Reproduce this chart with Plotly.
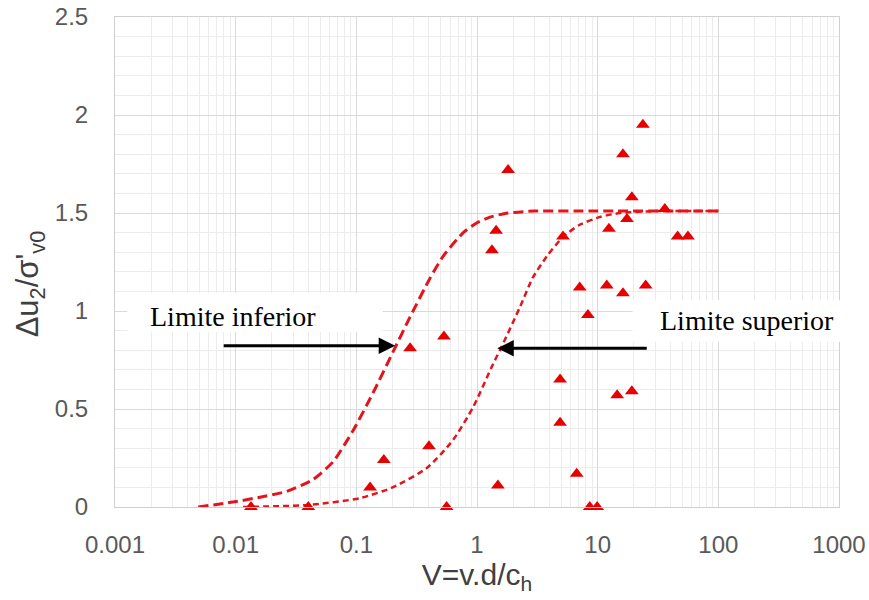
import plotly.graph_objects as go

# Measured points
V_data = [23.7, 16.2, 1.81, 19.2, 36, 17.5, 12.4, 1.44, 1.33, 5.16, 46, 56,
          7.1, 11.9, 16.2, 25, 8.3, 4.88, 14.5, 19.2, 4.88, 6.7, 1.49, 8.6, 9.9,
          0.279, 0.532, 0.40, 0.169, 0.130, 0.0134, 0.040, 0.56]
U_data = [1.95, 1.80, 1.72, 1.58, 1.52, 1.47, 1.42, 1.41, 1.31, 1.38, 1.38, 1.38,
          1.12, 1.13, 1.09, 1.13, 0.98, 0.65, 0.57, 0.59, 0.43, 0.17, 0.11, 0, 0,
          0.81, 0.87, 0.31, 0.24, 0.10, 0, 0, 0]

# Limite inferior curve
lower_V = [0.0049, 0.0095, 0.0159, 0.0266, 0.0437, 0.064, 0.094, 0.137, 0.201, 0.279,
           0.41, 0.525, 0.77, 1.0, 1.3, 1.8, 3, 10, 100]
lower_U = [0.0, 0.025, 0.05, 0.08, 0.14, 0.23, 0.39, 0.58, 0.79, 0.97,
           1.17, 1.28, 1.40, 1.45, 1.48, 1.50, 1.51, 1.51, 1.51]

# Limite superior curve
upper_V = [0.0115, 0.040, 0.107, 0.20, 0.386, 0.63, 0.93, 1.36, 1.55, 2.27, 2.9,
           3.8, 5.2, 7.1, 10.5, 15.3, 30, 100]
upper_U = [0.0, 0.01, 0.045, 0.10, 0.20, 0.34, 0.51, 0.73, 0.80, 1.02, 1.17,
           1.28, 1.38, 1.44, 1.48, 1.50, 1.51, 1.51]

x_tickvals = [0.001, 0.01, 0.1, 1, 10, 100, 1000]
x_ticktext = ["0.001", "0.01", "0.1", "1", "10", "100", "1000"]
y_tickvals = [0, 0.5, 1, 1.5, 2, 2.5]
y_ticktext = ["0", "0.5", "1", "1.5", "2", "2.5"]

RED = "#e3141c"
SANS = "Liberation Sans, Arial, sans-serif"
SERIF = "Liberation Serif, Times New Roman, serif"

fig = go.Figure()
fig.add_trace(go.Scatter(x=lower_V, y=lower_U, mode="lines",
                         line=dict(color=RED, width=3, dash="10px,5px", shape="spline", smoothing=0.6),
                         hoverinfo="skip", showlegend=False))
fig.add_trace(go.Scatter(x=upper_V, y=upper_U, mode="lines",
                         line=dict(color=RED, width=2.5, dash="6px,4px", shape="spline", smoothing=0.6),
                         hoverinfo="skip", showlegend=False))
fig.add_trace(go.Scatter(x=V_data, y=U_data, mode="markers", cliponaxis=False,
                         marker=dict(symbol="triangle-up", size=12, color="#e60000"),
                         showlegend=False))

# white text boxes (cover the grid; they do not overlap any data mark)
fig.add_shape(type="rect", xref="paper", yref="paper", x0=0.017, x1=0.370, y0=0.357, y1=0.437,
              fillcolor="white", line_width=0, layer="above")
fig.add_shape(type="rect", xref="paper", yref="paper", x0=0.715, x1=1.002, y0=0.337, y1=0.422,
              fillcolor="white", line_width=0, layer="above")

fig.add_annotation(xref="paper", yref="paper", x=0.163, y=0.388, xanchor="center", yanchor="middle",
                   text="Limite inferior", showarrow=False,
                   font=dict(family=SERIF, size=28, color="black"))
fig.add_annotation(xref="paper", yref="paper", x=0.873, y=0.380, xanchor="center", yanchor="middle",
                   text="Limite superior", showarrow=False,
                   font=dict(family=SERIF, size=28, color="black"))

fig.add_annotation(xref="paper", yref="paper", x=0.387, y=0.329, ax=-173, ay=0, text="",
                   showarrow=True, arrowhead=2, arrowsize=1.1, arrowwidth=3, arrowcolor="black")
fig.add_annotation(xref="paper", yref="paper", x=0.528, y=0.324, ax=151, ay=0, text="",
                   showarrow=True, arrowhead=2, arrowsize=1.1, arrowwidth=3, arrowcolor="black")

# y-axis title (placed slightly below the plot centre, as in the reference)
fig.add_annotation(xref="paper", yref="paper", x=-0.117, y=0.455, xanchor="center", yanchor="middle",
                   text="Δu<sub>2</sub>/σ'<sub>v0</sub>", textangle=-90, showarrow=False,
                   font=dict(family=SANS, size=31, color="#404040"))

fig.update_xaxes(type="log", range=[-3, 3], tickvals=x_tickvals, ticktext=x_ticktext,
                 showgrid=True, gridcolor="#d9d9d9", gridwidth=1,
                 minor=dict(dtick="D1", showgrid=True, gridcolor="#ececec", gridwidth=1),
                 showline=True, linecolor="#d0d0d0", mirror=True, linewidth=1,
                 ticks="", ticklabelstandoff=16, zeroline=False, automargin=False,
                 tickfont=dict(family=SANS, size=24, color="#595959"),
                 title=dict(text="V=v.d/c<sub>h</sub>", standoff=4,
                            font=dict(family=SANS, size=30, color="#404040")))
fig.update_yaxes(range=[0, 2.5], tickvals=y_tickvals, ticktext=y_ticktext,
                 showgrid=True, gridcolor="#d9d9d9", gridwidth=1,
                 minor=dict(dtick=0.1, showgrid=True, gridcolor="#ececec", gridwidth=1),
                 showline=True, linecolor="#d0d0d0", mirror=True, linewidth=1,
                 ticks="", ticklabelstandoff=21, zeroline=False, automargin=False,
                 tickfont=dict(family=SANS, size=24, color="#595959"))

fig.update_layout(width=869, height=600, margin=dict(l=115, r=30, t=17, b=93),
                  plot_bgcolor="white", paper_bgcolor="white", showlegend=False)

fig.write_html("out.html", config={"displayModeBar": False},
               post_script="document.body.style.margin='0px';")
